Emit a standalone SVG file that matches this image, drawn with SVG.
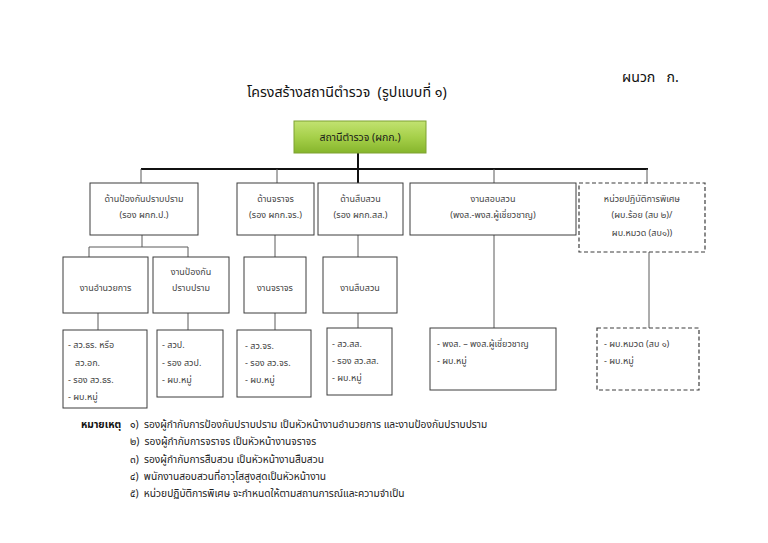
<svg xmlns="http://www.w3.org/2000/svg" width="768" height="543" viewBox="0 0 768 543">
<defs>
<linearGradient id="grn" x1="0" y1="0" x2="0" y2="1">
<stop offset="0" stop-color="#c2e271"/>
<stop offset="0.5" stop-color="#a6d04a"/>
<stop offset="1" stop-color="#86b52c"/>
</linearGradient>
</defs>
<style>
text{font-family:"Noto Sans Thai","Noto Sans","DejaVu Sans",sans-serif;fill:#444;font-size:9px;white-space:pre}
.c{text-anchor:middle}
.box{fill:#fff;stroke:#3c3c3c;stroke-width:1}
.dash{fill:#fff;stroke:#3c3c3c;stroke-width:1.2;stroke-dasharray:4 2.5}
.thin{stroke:#5a5a5a;stroke-width:1;fill:none}
.thick{stroke:#111;stroke-width:2;fill:none}
.title{font-size:14.2px;fill:#111}
.note{font-size:10.2px;fill:#222}
</style>
<rect width="768" height="543" fill="#fff"/>
<text class="title" x="622" y="82" xml:space="preserve">ผนวก   ก.</text>
<text class="title" x="247" y="97" xml:space="preserve">โครงสร้างสถานีตำรวจ  (รูปแบบที่ ๑)</text>

<g id="connectors">
<line class="thick" x1="141" y1="169" x2="648" y2="169"/>
<line class="thick" x1="358" y1="153" x2="358" y2="183"/>
<path class="thin" d="M141 169V183M277 169V183M494 169V183M647 169V183"/>
<path class="thin" d="M142 235V247M89 247H188M89 247V257M188 247V257"/>
<path class="thin" d="M275 235V257M358 235V257"/>
<path class="thin" d="M98 313V330M188 313V330M275 313V330M358 313V328"/>
<path class="thin" d="M494 235V328M649 252V328"/>
</g>

<g id="root">
<rect x="294" y="121" width="132" height="32" fill="url(#grn)" stroke="#7ea232" stroke-width="1"/>
<text class="c" x="360" y="141" style="fill:#1a1a1a;font-size:10.5px">สถานีตำรวจ (ผกก.)</text>
</g>

<g id="n1"><rect class="box" x="90" y="183" width="108" height="52"/>
<text class="c" x="144" y="202">ด้านป้องกันปราบปราม</text><text class="c" x="144" y="218" xml:space="preserve">(รอง ผกก.ป.)</text></g>
<g id="n2"><rect class="box" x="237" y="183" width="77" height="52"/>
<text class="c" x="275.5" y="202">ด้านจราจร</text><text class="c" x="275.5" y="218">(รอง ผกก.จร.)</text></g>
<g id="n3"><rect class="box" x="318" y="183" width="85" height="52"/>
<text class="c" x="360.5" y="202">ด้านสืบสวน</text><text class="c" x="360.5" y="218">(รอง ผกก.สส.)</text></g>
<g id="n4"><rect class="box" x="410" y="183" width="166" height="52"/>
<text class="c" x="493" y="202">งานสอบสวน</text><text class="c" x="493" y="218">(พงส.-พงส.ผู้เชี่ยวชาญ)</text></g>
<g id="n5"><rect class="dash" x="579" y="183" width="126" height="69"/>
<text class="c" x="642" y="202">หน่วยปฏิบัติการพิเศษ</text><text class="c" x="642" y="218">(ผบ.ร้อย (สบ ๒)/</text><text class="c" x="642" y="236">ผบ.หมวด (สบ๑))</text></g>

<g id="m1"><rect class="box" x="63" y="257" width="85" height="56"/>
<text class="c" x="105.5" y="291">งานอำนวยการ</text></g>
<g id="m2"><rect class="box" x="153" y="257" width="76" height="56"/>
<text class="c" x="191" y="275">งานป้องกัน</text><text class="c" x="191" y="291">ปราบปราม</text></g>
<g id="m3"><rect class="box" x="244" y="257" width="62" height="56"/>
<text class="c" x="275" y="291">งานจราจร</text></g>
<g id="m4"><rect class="box" x="323" y="257" width="74" height="56"/>
<text class="c" x="360" y="291">งานสืบสวน</text></g>

<g id="a"><rect class="box" x="63" y="330" width="84" height="78"/>
<text x="68" y="348">- สว.ธร. หรือ</text><text x="75" y="366">สว.อก.</text><text x="68" y="383">- รอง สว.ธร.</text><text x="68" y="400">- ผบ.หมู่</text></g>
<g id="b"><rect class="box" x="157" y="330" width="66" height="67"/>
<text x="162" y="348">- สวป.</text><text x="162" y="366">- รอง สวป.</text><text x="162" y="383">- ผบ.หมู่</text></g>
<g id="c"><rect class="box" x="237" y="330" width="74" height="67"/>
<text x="245" y="349">- สว.จร.</text><text x="245" y="366">- รอง สว.จร.</text><text x="245" y="383">- ผบ.หมู่</text></g>
<g id="d"><rect class="box" x="327" y="328" width="65" height="67"/>
<text x="332" y="347">- สว.สส.</text><text x="332" y="364">- รอง สว.สส.</text><text x="332" y="381">- ผบ.หมู่</text></g>
<g id="e"><rect class="box" x="430" y="328" width="126" height="62"/>
<text x="437" y="347">- พงส. – พงส.ผู้เชี่ยวชาญ</text><text x="437" y="364">- ผบ.หมู่</text></g>
<g id="f"><rect class="dash" x="597" y="328" width="102" height="62"/>
<text x="604" y="347">- ผบ.หมวด (สบ ๑)</text><text x="604" y="364">- ผบ.หมู่</text></g>

<g id="notes">
<text class="note" x="81" y="428" style="font-weight:bold;fill:#111">หมายเหตุ</text>
<text class="note" x="130" y="428" xml:space="preserve">๑)  รองผู้กำกับการป้องกันปราบปราม เป็นหัวหน้างานอำนวยการ และงานป้องกันปราบปราม</text>
<text class="note" x="130" y="445" xml:space="preserve">๒)  รองผู้กำกับการจราจร เป็นหัวหน้างานจราจร</text>
<text class="note" x="130" y="463" xml:space="preserve">๓)  รองผู้กำกับการสืบสวน เป็นหัวหน้างานสืบสวน</text>
<text class="note" x="130" y="480" xml:space="preserve">๔)  พนักงานสอบสวนที่อาวุโสสูงสุดเป็นหัวหน้างาน</text>
<text class="note" x="130" y="497" xml:space="preserve">๕)  หน่วยปฏิบัติการพิเศษ จะกำหนดให้ตามสถานการณ์และความจำเป็น</text>
</g>
</svg>
